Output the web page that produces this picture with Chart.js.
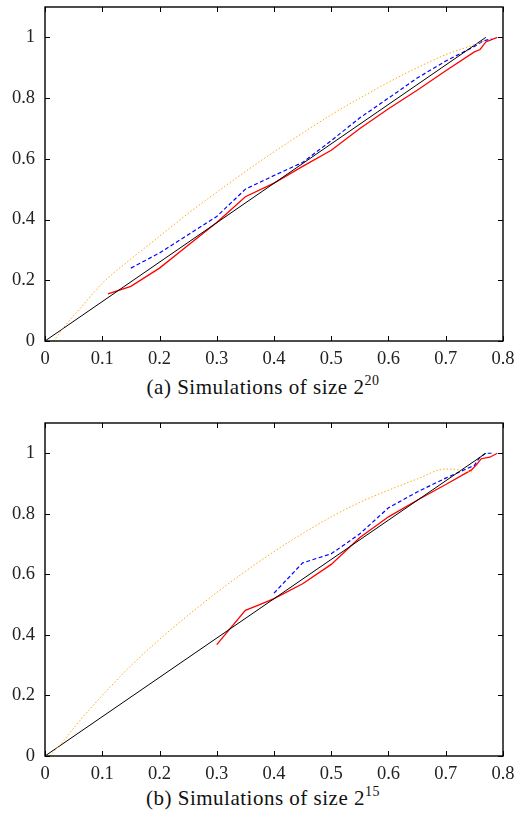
<!DOCTYPE html>
<html>
<head>
<meta charset="utf-8">
<script src="https://cdn.jsdelivr.net/npm/chart.js@4"></script>
<style>
  body { margin: 0; background: #fff; width: 518px; height: 813px; position: relative; overflow: hidden; }
  canvas { position: absolute; left: 0; }
  #chartA { top: 0; }
  #chartB { top: 416px; }
  .caption { position: absolute; left: 0; width: 526px; text-align: center;
             font-family: "Liberation Serif", serif; font-size: 21px; line-height: 24px;
             letter-spacing: 0.5px; color: #111; }
  .caption sup { font-size: 14px; vertical-align: 9px; line-height: 0; letter-spacing: 0.5px; }
  #capA { top: 375px; }
  #capB { top: 786px; }
</style>
</head>
<body>
<canvas id="chartA" width="518" height="365"></canvas>
<div class="caption" id="capA">(a) Simulations of size 2<sup>20</sup></div>
<canvas id="chartB" width="518" height="364"></canvas>
<div class="caption" id="capB">(b) Simulations of size 2<sup>15</sup></div>

<script>
// axis ticks
const xTickValues = [0, 0.1, 0.2, 0.3, 0.4, 0.5, 0.6, 0.7, 0.8];
const yTickValues = [0, 0.2, 0.4, 0.6, 0.8, 1];

// reference line, same in both runs
const diagX = [0, 0.77];
const diagY = [0, 1];

// size 2^20
const aOrangeX = [0.015, 0.035, 0.065, 0.1, 0.15, 0.2, 0.25, 0.3, 0.35, 0.4, 0.45, 0.5, 0.55, 0.6, 0.65, 0.7, 0.75, 0.77];
const aOrangeY = [0, 0.05, 0.115, 0.19, 0.27, 0.345, 0.42, 0.49, 0.558, 0.623, 0.685, 0.745, 0.8, 0.852, 0.9, 0.943, 0.976, 0.99];
const aBlueX = [0.15, 0.2, 0.25, 0.3, 0.35, 0.4, 0.45, 0.5, 0.55, 0.6, 0.65, 0.7, 0.75, 0.765, 0.78];
const aBlueY = [0.24, 0.29, 0.35, 0.41, 0.5, 0.545, 0.588, 0.66, 0.735, 0.8, 0.866, 0.922, 0.97, 0.988, 0.995];
const aRedX = [0.11, 0.15, 0.2, 0.25, 0.3, 0.35, 0.4, 0.45, 0.5, 0.55, 0.6, 0.65, 0.7, 0.75, 0.76, 0.77, 0.79];
const aRedY = [0.155, 0.18, 0.24, 0.315, 0.39, 0.475, 0.52, 0.575, 0.628, 0.7, 0.765, 0.826, 0.89, 0.952, 0.96, 0.985, 1];

// size 2^15
const bOrangeX = [0.008, 0.03, 0.06, 0.1, 0.15, 0.2, 0.25, 0.3, 0.35, 0.4, 0.45, 0.5, 0.55, 0.6, 0.65, 0.7, 0.72, 0.75];
const bOrangeY = [0, 0.045, 0.115, 0.2, 0.298, 0.385, 0.465, 0.54, 0.61, 0.675, 0.735, 0.79, 0.838, 0.878, 0.915, 0.948, 0.946, 0.937];
const bBlueX = [0.4, 0.45, 0.5, 0.55, 0.6, 0.65, 0.7, 0.75, 0.76, 0.77, 0.78];
const bBlueY = [0.538, 0.638, 0.668, 0.734, 0.82, 0.872, 0.918, 0.96, 0.988, 1, 1];
const bRedX = [0.3, 0.35, 0.375, 0.4, 0.45, 0.5, 0.55, 0.6, 0.65, 0.7, 0.745, 0.755, 0.762, 0.777, 0.79];
const bRedY = [0.368, 0.481, 0.5, 0.52, 0.569, 0.633, 0.722, 0.79, 0.845, 0.897, 0.945, 0.965, 0.982, 0.987, 1];

const serif = "'Liberation Serif', serif";

function pts(xs, ys) {
  return xs.map((x, i) => ({ x: x, y: ys[i] }));
}

// gnuplot-style box with inward ticks on all four sides
const frameTicks = {
  id: 'frameTicks',
  afterDraw(chart) {
    const { ctx, chartArea: a, scales } = chart;
    const len = 5;
    ctx.save();
    ctx.strokeStyle = '#000';
    ctx.lineWidth = 1;
    ctx.beginPath();
    xTickValues.forEach(v => {
      const px = Math.round(scales.x.getPixelForValue(v)) + 0.5;
      ctx.moveTo(px, a.bottom); ctx.lineTo(px, a.bottom - len);
      ctx.moveTo(px, a.top); ctx.lineTo(px, a.top + len);
    });
    yTickValues.forEach(v => {
      const py = Math.round(scales.y.getPixelForValue(v)) + 0.5;
      ctx.moveTo(a.left, py); ctx.lineTo(a.left + len, py);
      ctx.moveTo(a.right, py); ctx.lineTo(a.right - len, py);
    });
    ctx.stroke();
    ctx.lineWidth = 1.4;
    ctx.strokeRect(a.left, a.top, a.right - a.left, a.bottom - a.top);
    ctx.restore();
  }
};

// keep the plot box fixed, labels may overhang the padding
function noPad(s) {
  s.paddingTop = 0; s.paddingBottom = 0; s.paddingLeft = 0; s.paddingRight = 0;
}

function makeChart(id, orange, blue, red) {
  return new Chart(id, {
    type: 'scatter',
    data: {
      datasets: [
        { data: orange, borderColor: 'rgb(255,168,20)', borderWidth: 1, borderDash: [1.5, 2],
          cubicInterpolationMode: 'monotone' },
        { data: pts(diagX, diagY), borderColor: '#000', borderWidth: 1 },
        { data: blue, borderColor: 'rgb(0,0,255)', borderWidth: 1.2, borderDash: [4, 2.5] },
        { data: red, borderColor: 'rgb(255,0,0)', borderWidth: 1.3 }
      ]
    },
    options: {
      responsive: false,
      animation: false,
      showLine: true,
      elements: { point: { radius: 0, hoverRadius: 0 }, line: { tension: 0, fill: false } },
      layout: { padding: { top: 7, right: 15, left: 0, bottom: 0 } },
      plugins: { legend: { display: false }, tooltip: { enabled: false } },
      scales: {
        x: {
          type: 'linear', min: 0, max: 0.8,
          afterBuildTicks: s => { s.ticks = xTickValues.map(v => ({ value: v })); },
          afterFit: s => { s.height = 24; noPad(s); },
          grid: { display: false, drawTicks: false },
          border: { display: false },
          ticks: { padding: 7, color: '#222', font: { family: serif, size: 18.5 },
                   maxRotation: 0, autoSkip: false, callback: v => String(v) }
        },
        y: {
          type: 'linear', min: 0, max: 1.1,
          afterBuildTicks: s => { s.ticks = yTickValues.map(v => ({ value: v })); },
          afterFit: s => { s.width = 45; noPad(s); },
          grid: { display: false, drawTicks: false },
          border: { display: false },
          ticks: { padding: 10, color: '#222', font: { family: serif, size: 18.5 },
                   autoSkip: false, callback: v => String(v) }
        }
      }
    },
    plugins: [frameTicks]
  });
}

makeChart('chartA', pts(aOrangeX, aOrangeY), pts(aBlueX, aBlueY), pts(aRedX, aRedY));
makeChart('chartB', pts(bOrangeX, bOrangeY), pts(bBlueX, bBlueY), pts(bRedX, bRedY));
</script>
</body>
</html>
